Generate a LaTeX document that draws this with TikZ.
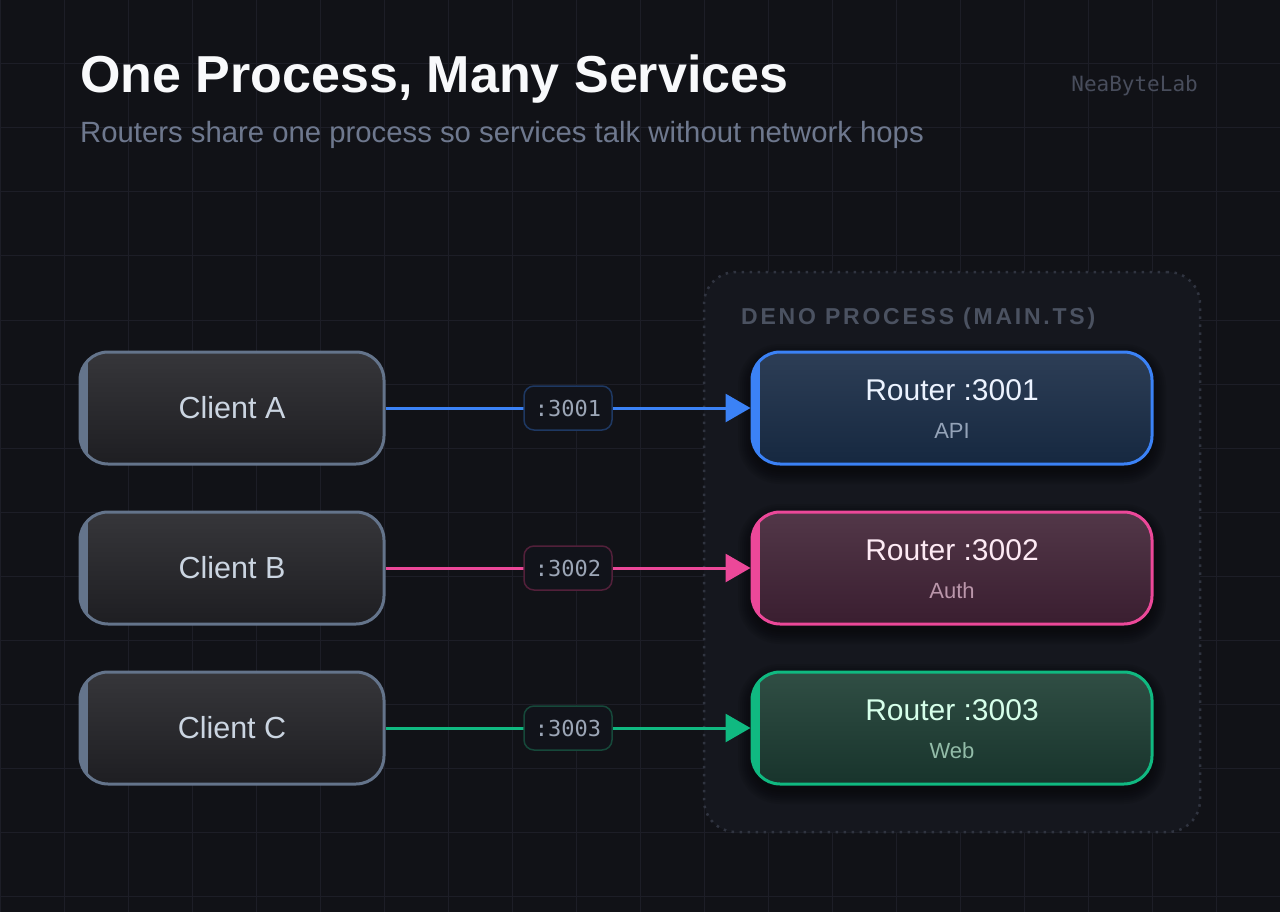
\documentclass[tikz,border=0pt]{standalone}
\usepackage{fontspec}
\setmainfont{Liberation Sans}
\setmonofont{DejaVu Sans Mono}
\newfontfamily\capsfont[LetterSpace=12]{Liberation Sans}
\usetikzlibrary{arrows.meta}
\definecolor{bg}{RGB}{17,18,23}
\definecolor{gridc}{RGB}{29,30,39}
\definecolor{procfill}{RGB}{21,23,30}
\definecolor{procdraw}{RGB}{48,52,64}
\definecolor{proctext}{RGB}{75,82,97}
\definecolor{titlec}{RGB}{248,249,251}
\definecolor{subc}{RGB}{110,120,142}
\definecolor{markc}{RGB}{72,77,92}
\definecolor{slate}{RGB}{100,116,139}
\definecolor{cltop}{RGB}{54,54,58}
\definecolor{clbot}{RGB}{30,30,34}
\definecolor{cltext}{RGB}{203,213,225}
\definecolor{blueA}{RGB}{59,130,246}
\definecolor{blueTop}{RGB}{45,62,86}
\definecolor{blueBot}{RGB}{22,40,64}
\definecolor{blueT}{RGB}{236,243,255}
\definecolor{blueS}{RGB}{148,163,184}
\definecolor{bluePill}{RGB}{30,56,98}
\definecolor{pinkA}{RGB}{236,72,153}
\definecolor{pinkTop}{RGB}{82,55,72}
\definecolor{pinkBot}{RGB}{58,30,48}
\definecolor{pinkT}{RGB}{253,234,244}
\definecolor{pinkS}{RGB}{186,150,170}
\definecolor{pinkPill}{RGB}{82,32,58}
\definecolor{greenA}{RGB}{16,185,129}
\definecolor{greenTop}{RGB}{48,78,68}
\definecolor{greenBot}{RGB}{24,52,44}
\definecolor{greenT}{RGB}{214,255,234}
\definecolor{greenS}{RGB}{146,188,168}
\definecolor{greenPill}{RGB}{22,72,58}
\definecolor{pillfill}{RGB}{17,19,26}
\definecolor{pilltext}{RGB}{156,166,182}
\tikzset{
  box/.style n args={3}{rounded corners=28pt, line width=3pt, inner sep=0pt,
    draw=#1, top color=#2, bottom color=#3, minimum height=112pt,
    path picture={\fill[#1, sharp corners] ([xshift=-3pt,yshift=-11pt]path picture bounding box.north west)
      rectangle ([xshift=8pt,yshift=11pt]path picture bounding box.south west);}},
  clientbox/.style={box={slate}{cltop}{clbot}, minimum width=304pt,
    text=cltext, font=\fontsize{30.5}{34}\selectfont},
  routerbox/.style n args={3}{box={#1}{#2}{#3}, minimum width=400pt},
  rtitle/.style={anchor=base, font=\fontsize{30}{34}\selectfont},
  rsub/.style={anchor=base, font=\fontsize{22}{26}\selectfont},
  link/.style={draw=#1, line width=3pt, -{Triangle[length=25pt,width=28pt]}},
  pill/.style={draw=#1, fill=pillfill, line width=1.5pt, rounded corners=10pt,
    minimum width=88pt, minimum height=44pt, inner sep=0pt, text=pilltext,
    font=\ttfamily\fontsize{22}{26}\selectfont},
  shadowlayer/.style={fill=black, opacity=0.07}
}
\begin{document}
\begin{tikzpicture}[x=1pt,y=-1pt]
\useasboundingbox (0,0) rectangle (1280,912);
\fill[bg] (0,0) rectangle (1280,912);
\foreach \i in {0,64,...,1280} \draw[gridc, line width=1pt] (\i,0) -- (\i,912);
\foreach \j in {0,64,...,896} \draw[gridc, line width=1pt] (0,\j) -- (1280,\j);

\node[anchor=base west, text=titlec, font=\bfseries\fontsize{52}{60}\selectfont, inner sep=0pt] (title) at (80,93) {One Process, Many Services};
\node[anchor=base west, text=subc, font=\fontsize{29.3}{33}\selectfont, inner sep=0pt] (subtitle) at (80,143) {Routers share one process so services talk without network hops};
\node[anchor=base east, text=markc, font=\ttfamily\fontsize{21}{24}\selectfont, inner sep=0pt] (mark) at (1198,92) {NeaByteLab};

\node[draw=procdraw, fill=procfill, line width=2.5pt, dash pattern=on 2.5pt off 5.5pt,
  rounded corners=32pt, minimum width=496pt, minimum height=560pt, inner sep=0pt] (proc) at (952,552) {};
\node[anchor=base west, text=proctext, font=\capsfont\bfseries\fontsize{23}{26}\selectfont, inner sep=0pt] (proclabel) at (741,324) {DENO PROCESS (MAIN.TS)};

% soft shadows under routers
\foreach \cy in {408,568,728}{
  \foreach \k in {2,4,...,14}{
    \fill[shadowlayer, rounded corners={28+\k}] (752-\k,\cy-56-\k+6) rectangle (1152+\k,\cy+56+\k+6);
  }
}

\node[clientbox] (c1) at (232,408) {Client A};
\node[clientbox] (c2) at (232,568) {Client B};
\node[clientbox] (c3) at (232,728) {Client C};

\node[routerbox={blueA}{blueTop}{blueBot}] (r1) at (952,408) {};
\node[routerbox={pinkA}{pinkTop}{pinkBot}] (r2) at (952,568) {};
\node[routerbox={greenA}{greenTop}{greenBot}] (r3) at (952,728) {};

\node[rtitle, text=blueT] (r1t) at (952,400) {Router :3001};
\node[rsub, text=blueS] (r1s) at (952,438) {API};
\node[rtitle, text=pinkT] (r2t) at (952,560) {Router :3002};
\node[rsub, text=pinkS] (r2s) at (952,598) {Auth};
\node[rtitle, text=greenT] (r3t) at (952,720) {Router :3003};
\node[rsub, text=greenS] (r3s) at (952,758) {Web};

\draw[link=blueA] (c1.east) -- node[pill=bluePill] (p1) {:3001} (r1.west);
\draw[link=pinkA] (c2.east) -- node[pill=pinkPill] (p2) {:3002} (r2.west);
\draw[link=greenA] (c3.east) -- node[pill=greenPill] (p3) {:3003} (r3.west);
\end{tikzpicture}
\end{document}
